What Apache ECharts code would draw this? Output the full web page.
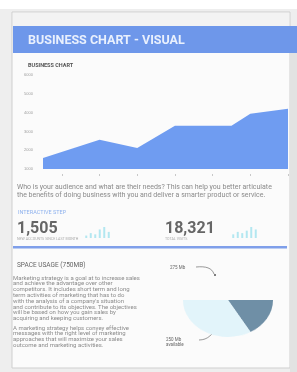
<!DOCTYPE html>
<html>
<head>
<meta charset="utf-8">
<script src="https://cdn.jsdelivr.net/npm/echarts@6/dist/echarts.min.js"></script>
<style>
  html, body { margin: 0; padding: 0; background: #eeeeee; }
  #main { position: absolute; left: 0; top: 0; width: 297px; height: 372px; }
  #pie { position: absolute; left: 178px; top: 250px; width: 100px; height: 100px;
         transform: scaleY(0.82); transform-origin: 50% 50%; }
</style>
</head>
<body>
<div id="main"></div>
<div id="pie"></div>
<script>
// area chart: 14 slots, only the corners of the shape carry values
var xCats = ['1', '2', '3', '4', '5', '6', '7', '8', '9', '10', '11', '12', '13', '14'];
var areaValues = [1590, null, null, 2550, null, 2120, null, 3300, null, null, 3300, 3940, null, 4210];
var yMin = 1000, yMax = 6000, yStep = 1000;

// small bar icons next to the numbers
var barsA = [2, 4, 3, 7, 9, 5];
var barsB = [3, 5, 4, 6, 9, 7];

// stats
var statLabel = 'INTERACTIVE STEP';
var statA = '1,505', statASub = 'NEW ACCOUNTS SINCE LAST MONTH';
var statB = '18,321', statBSub = 'TOTAL VISITS';

// space usage pie: hidden upper half, used, available
var pieNames = ['other', 'used', 'available'];
var pieValues = [375, 125, 250];
var pieColors = ['rgba(255,255,255,0)', '#6f8fa6', '#e2f4fa'];
var pieLabelTop = '275 Mb';
var pieLabelBottom = '250 Mb\navailable';

var intro = 'Who is your audience and what are their needs? This can help you better articulate\n' +
  'the benefits of doing business with you and deliver a smarter product or service.';
var para1 = 'Marketing strategy is a goal at to increase sales\n' +
  'and achieve the advantage over other\n' +
  'competitors. It includes short term and long\n' +
  'term activities of marketing that has to do\n' +
  'with the analysis of a company\'s situation\n' +
  'and contribute to its objectives. The objectives\n' +
  'will be based on how you gain sales by\n' +
  'acquiring and keeping customers.';
var para2 = 'A marketing strategy helps convey effective\n' +
  'messages with the right level of marketing\n' +
  'approaches that will maximize your sales\n' +
  'outcome and marketing activities.';

var blue = '#6e97ea';
var narrow = '"Liberation Sans Narrow", "Roboto", sans-serif';

var chart = echarts.init(document.getElementById('main'));
var option = {
  backgroundColor: '#eeeeee',
  animation: false,
  grid: [
    { left: 43, right: 9, top: 75, bottom: 203 },
    { left: 84, top: 227, width: 27, height: 11 },
    { left: 231, top: 227, width: 27, height: 11 }
  ],
  xAxis: [
    {
      gridIndex: 0, type: 'category', data: xCats, boundaryGap: false, offset: 5,
      axisLine: { show: false },
      axisTick: { show: true, length: 2, lineStyle: { color: '#c8c8c8' },
        interval: function (i) { return i % 2 === 1; } },
      axisLabel: { show: false }
    },
    { gridIndex: 1, type: 'category', data: barsA.map(function (v, i) { return i; }), show: false },
    { gridIndex: 2, type: 'category', data: barsB.map(function (v, i) { return i; }), show: false }
  ],
  yAxis: [
    {
      gridIndex: 0, type: 'value', min: yMin, max: yMax, interval: yStep,
      splitLine: { show: false },
      axisLine: { show: false }, axisTick: { show: false },
      axisLabel: { fontSize: 4, color: '#a0a0a0', margin: 10,
        formatter: function (v) { return String(v); } }
    },
    { gridIndex: 1, type: 'value', min: 0, max: 9, show: false },
    { gridIndex: 2, type: 'value', min: 0, max: 9, show: false }
  ],
  series: [
    {
      type: 'line', xAxisIndex: 0, yAxisIndex: 0, data: areaValues,
      connectNulls: true, symbol: 'none',
      lineStyle: { width: 0 },
      areaStyle: { color: '#6f9cf1', opacity: 1 }
    },
    {
      type: 'bar', xAxisIndex: 1, yAxisIndex: 1, data: barsA,
      barWidth: 2, itemStyle: { color: '#b3e7f0' }
    },
    {
      type: 'bar', xAxisIndex: 2, yAxisIndex: 2, data: barsB,
      barWidth: 2, itemStyle: { color: '#b3e7f0' }
    }
  ],
  graphic: [
    // top strip and page
    { type: 'rect', z: -10, shape: { x: 0, y: 0, width: 297, height: 9 }, style: { fill: '#ffffff' } },
    { type: 'rect', z: -9, shape: { x: 12, y: 12, width: 278, height: 356 },
      style: { fill: '#fbfbfb', stroke: '#cfcfcf', lineWidth: 1 } },
    { type: 'rect', z: -8, shape: { x: 13, y: 13, width: 276, height: 13 }, style: { fill: '#f3f3f3' } },
    // header band
    { type: 'rect', z: -5, shape: { x: 13, y: 26, width: 284, height: 27 }, style: { fill: blue } },
    { type: 'text', left: 28, top: 34, style: { text: 'BUSINESS CHART - VISUAL', fill: '#e9f0fd',
      font: 'bold 12.5px ' + narrow } },
    { type: 'text', left: 28, top: 63, style: { text: 'BUSINESS CHART', fill: '#555555',
      font: 'bold 5.5px ' + narrow } },
    // intro sentence
    { type: 'text', left: 17, top: 183, style: { text: intro, fill: '#8a8a8a',
      font: '7px ' + narrow, lineHeight: 8 } },
    // stats
    { type: 'text', left: 18, top: 210, style: { text: statLabel, fill: '#8fb2ee',
      font: '5.5px ' + narrow } },
    { type: 'text', left: 17, top: 221, style: { text: statA, fill: '#666666',
      font: 'bold 16px ' + narrow } },
    { type: 'text', left: 17, top: 237, style: { text: statASub, fill: '#aaaaaa',
      font: '3.6px ' + narrow } },
    { type: 'text', left: 165, top: 221, style: { text: statB, fill: '#666666',
      font: 'bold 16px ' + narrow } },
    { type: 'text', left: 165, top: 237, style: { text: statBSub, fill: '#aaaaaa',
      font: '3.6px ' + narrow } },
    // divider
    { type: 'rect', shape: { x: 13, y: 246, width: 274, height: 2.5 }, style: { fill: '#7f9fea' } },
    // space usage text
    { type: 'text', left: 17, top: 262, style: { text: 'SPACE USAGE (750MB)', fill: '#666666',
      font: '6.5px ' + narrow } },
    { type: 'text', left: 13, top: 275, style: { text: para1, fill: '#8c8c8c',
      font: '6px ' + narrow, lineHeight: 5.8 } },
    { type: 'text', left: 13, top: 325, style: { text: para2, fill: '#8c8c8c',
      font: '6px ' + narrow, lineHeight: 5.8 } },
    // pie callouts
    { type: 'text', left: 170, top: 265, style: { text: pieLabelTop, fill: '#666666',
      font: '4.5px ' + narrow } },
    { type: 'bezierCurve', shape: { x1: 196, y1: 267, x2: 214, y2: 274, cpx1: 206, cpy1: 266, cpx2: 212, cpy2: 268 },
      style: { stroke: '#555555', lineWidth: 0.6, fill: null } },
    { type: 'circle', shape: { cx: 215, cy: 275, r: 1 }, style: { fill: '#555555' } },
    { type: 'text', left: 166, top: 337, style: { text: pieLabelBottom, fill: '#666666',
      font: '4.5px ' + narrow, lineHeight: 5 } },
    { type: 'bezierCurve', shape: { x1: 199, y1: 340, x2: 217, y2: 326, cpx1: 208, cpy1: 340, cpx2: 213, cpy2: 334 },
      style: { stroke: '#555555', lineWidth: 0.6, fill: null } },
    { type: 'circle', shape: { cx: 218, cy: 325, r: 1 }, style: { fill: '#555555' } },
    // right page edge shadow
    { type: 'rect', shape: { x: 290, y: 53, width: 7, height: 319 }, style: { fill: '#e2e2e2' } }
  ]
};
chart.setOption(option);

var pieChart = echarts.init(document.getElementById('pie'));
pieChart.setOption({
  animation: false,
  series: [{
    type: 'pie', radius: 45, center: [50, 50], startAngle: 180, clockwise: true,
    label: { show: false }, labelLine: { show: false }, silent: true,
    data: pieNames.map(function (n, i) {
      return { name: n, value: pieValues[i], itemStyle: { color: pieColors[i] } };
    })
  }]
});
</script>
</body>
</html>
